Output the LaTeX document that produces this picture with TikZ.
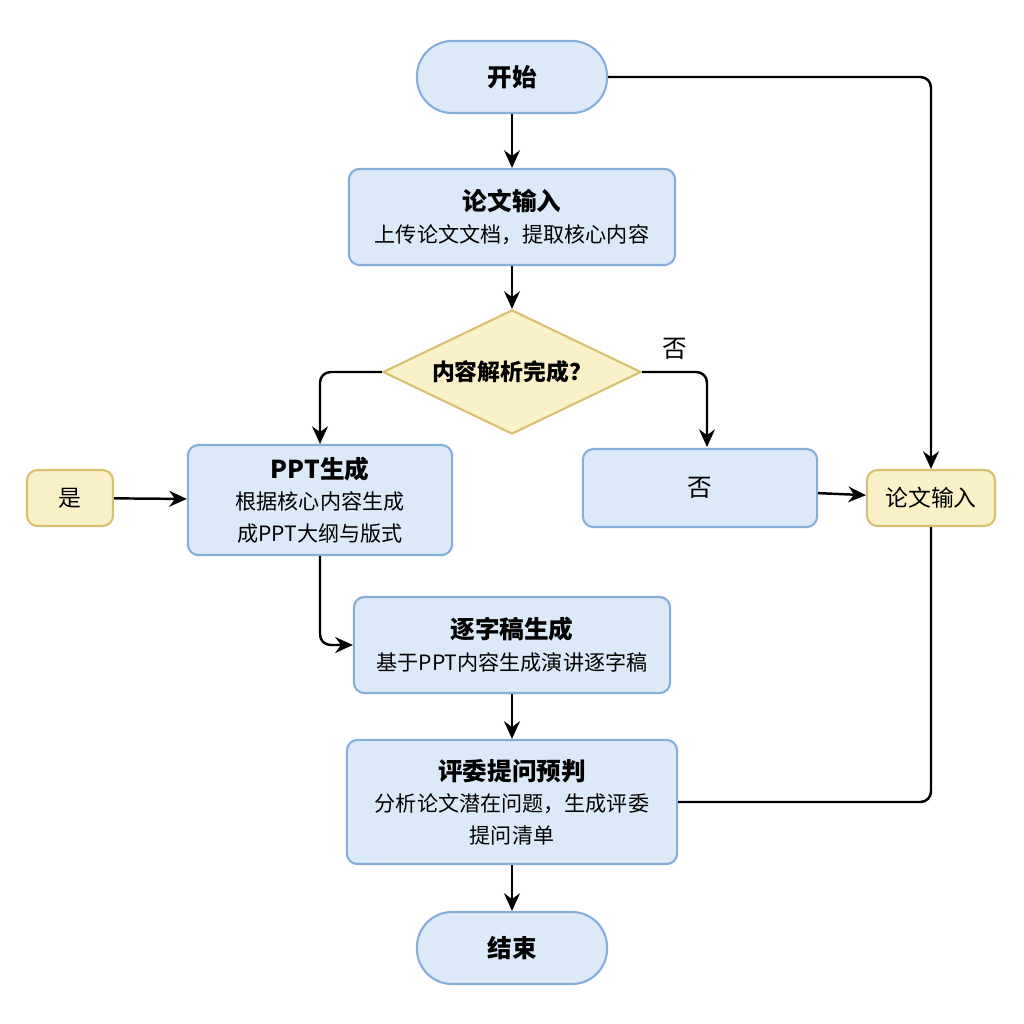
\documentclass[tikz,border=0pt]{standalone}
\usepackage{fontspec}
\setmainfont{Noto Sans CJK SC}
\usetikzlibrary{shapes.geometric,arrows.meta}
\definecolor{boxblue}{HTML}{DCE9F8}
\definecolor{lineblue}{HTML}{86AEDB}
\definecolor{boxyellow}{HTML}{FBF1C9}
\definecolor{lineyellow}{HTML}{D8C070}
\tikzset{
  proc/.style={draw=lineblue, fill=boxblue, rounded corners=3pt, line width=0.6pt, align=center, font=\fontsize{6}{9}\selectfont},
  term/.style={draw=lineblue, fill=boxblue, rounded corners=10pt, line width=0.6pt, font=\fontsize{7}{9}\selectfont\bfseries},
  note/.style={draw=lineyellow, fill=boxyellow, rounded corners=3pt, line width=0.6pt, font=\fontsize{6.5}{8}\selectfont},
  arrow/.style={-{Stealth[length=5pt,width=4.5pt]}, line width=0.7pt, rounded corners=3pt}
}
\newcommand{\ttl}[1]{{\bfseries\fontsize{7}{10}\selectfont #1}}
\begin{document}
\begin{tikzpicture}[x=0.01cm,y=-0.01cm]
    \useasboundingbox[fill=white] (0,0) rectangle (1024,1024);

    % Terminals
    \node[term, minimum width=1.9cm, minimum height=0.72cm] (start) at (512,77) {开始};
    \node[term, minimum width=1.9cm, minimum height=0.72cm] (finish) at (512,948) {结束};

    % Steps
    \node[proc, minimum width=3.26cm, minimum height=0.96cm] (input) at (512,217)
        {\ttl{论文输入}\\上传论文文档，提取核心内容};
    \node[diamond, aspect=2.1, draw=lineyellow, fill=boxyellow, line width=0.6pt,
        minimum width=2.58cm, minimum height=1.24cm, inner sep=0pt,
        font=\fontsize{6.5}{8}\selectfont\bfseries] (check) at (512,372) {内容解析完成？};
    \node[proc, minimum width=2.64cm, minimum height=1.08cm] (ppt) at (320,500)
        {\ttl{PPT生成}\\根据核心内容生成\\成PPT大纲与版式};
    \node[proc, minimum width=2.34cm, minimum height=0.78cm, font=\fontsize{7}{9}\selectfont] (no) at (700,488) {否};
    \node[proc, minimum width=3.16cm, minimum height=0.96cm] (script) at (512,645)
        {\ttl{逐字稿生成}\\基于PPT内容生成演讲逐字稿};
    \node[proc, minimum width=3.3cm, minimum height=1.24cm] (judge) at (512,802)
        {\ttl{评委提问预判}\\分析论文潜在问题，生成评委\\提问清单};

    % Side notes
    \node[note, minimum width=0.86cm, minimum height=0.56cm] (yes) at (70,498) {是};
    \node[note, minimum width=1.28cm, minimum height=0.56cm] (input2) at (931,498) {论文输入};

    % Connectors
    \coordinate (noTop) at (707,447);
    \draw[arrow] (start) -- (input);
    \draw[arrow] (input) -- (check);
    \draw[arrow] (check.west) -| (ppt.north);
    \draw[arrow] (check.east) -| (noTop) node[pos=0.25, above, font=\fontsize{7}{9}\selectfont] {否};
    \draw[arrow] (start.east) -| (input2.north);
    \draw[arrow] (yes) -- (ppt);
    \draw[arrow] (no) -- (input2);
    \draw[arrow] (ppt.south) |- (script.west);
    \draw[arrow] (script) -- (judge);
    \draw[line width=0.7pt, rounded corners=3pt] (judge.east) -| (input2.south);
    \draw[arrow] (judge) -- (finish);
\end{tikzpicture}
\end{document}
